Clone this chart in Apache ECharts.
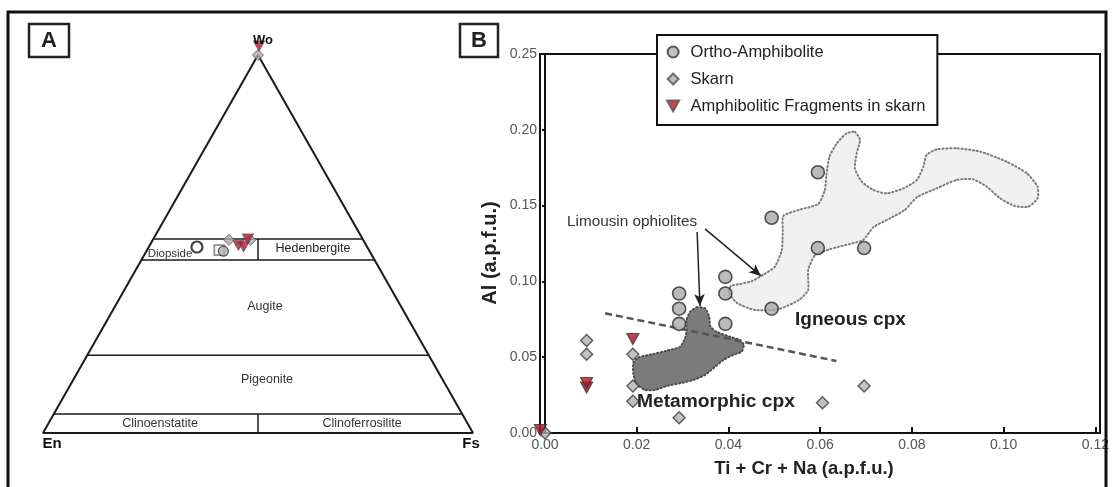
<!DOCTYPE html>
<html><head><meta charset="utf-8">
<script src="https://cdn.jsdelivr.net/npm/echarts@6/dist/echarts.min.js"></script>
<style>html,body{margin:0;padding:0;background:#fff}#c{width:1112px;height:487px}</style>
</head><body><div id="c"></div>
<script>
// ===== Panel B: Al vs Ti+Cr+Na (a.p.f.u.) =====
const orthoX = [0.029, 0.029, 0.029, 0.039, 0.039, 0.039, 0.049, 0.049, 0.059, 0.059, 0.069];
const orthoY = [0.092, 0.082, 0.072, 0.103, 0.092, 0.072, 0.082, 0.142, 0.172, 0.122, 0.122];
const skarnX = [0.000, 0.009, 0.009, 0.019, 0.019, 0.019, 0.029, 0.060, 0.069];
const skarnY = [0.000, 0.061, 0.052, 0.052, 0.031, 0.021, 0.010, 0.020, 0.031];
const fragX = [-0.001, 0.009, 0.009, 0.019];
const fragY = [0.002, 0.030, 0.033, 0.062];
const xTicks = [0.00, 0.02, 0.04, 0.06, 0.08, 0.10, 0.12];
const yTicks = [0.00, 0.05, 0.10, 0.15, 0.20, 0.25];
// Igneous cpx field outline
const ignX = [0.0670,0.0681,0.0674,0.0670,0.0685,0.0710,0.0739,0.0775,0.0804,0.0818,0.0825,0.0847,0.0890,0.0941,0.0998,0.1042,0.1065,0.1065,0.1045,0.1016,0.0984,0.0955,0.0926,0.0890,0.0847,0.0804,0.0778,0.0746,0.0710,0.0688,0.0659,0.0616,0.0584,0.0569,0.0569,0.0549,0.0506,0.0454,0.0415,0.0398,0.0402,0.0422,0.0448,0.0471,0.0497,0.0512,0.0514,0.0515,0.0548,0.0591,0.0605,0.0608,0.0615,0.0631,0.0652];
const ignY = [0.1986,0.1933,0.1845,0.1746,0.1658,0.1603,0.1581,0.1614,0.1669,0.1757,0.1834,0.1871,0.1878,0.1856,0.1790,0.1713,0.1625,0.1548,0.1493,0.1497,0.1548,0.1625,0.1673,0.1669,0.1614,0.1555,0.1471,0.1416,0.1357,0.1273,0.1247,0.1212,0.1174,0.1075,0.0943,0.0877,0.0818,0.0811,0.0858,0.0923,0.0970,0.0983,0.1003,0.1042,0.1097,0.1207,0.1339,0.1431,0.1471,0.1511,0.1603,0.1691,0.1823,0.1911,0.1977];
// Metamorphic cpx field (Limousin ophiolites) outline
const metX = [0.0328,0.0346,0.0355,0.0358,0.0371,0.0400,0.0422,0.0430,0.0425,0.0407,0.0386,0.0364,0.0346,0.0321,0.0292,0.0263,0.0238,0.0216,0.0197,0.0191,0.0191,0.0202,0.0234,0.0263,0.0292,0.0303,0.0306,0.0306,0.0314];
const metY = [0.0829,0.0823,0.0767,0.0701,0.0668,0.0635,0.0613,0.0580,0.0536,0.0515,0.0482,0.0427,0.0383,0.0350,0.0328,0.0310,0.0284,0.0284,0.0328,0.0394,0.0464,0.0499,0.0521,0.0543,0.0569,0.0625,0.0679,0.0745,0.0800];
const dashX = [0.013, 0.063];
const dashY = [0.079, 0.0475];
const arrowFromX = [0.0329, 0.0346];
const arrowFromY = [0.1326, 0.1346];
const arrowToX = [0.0335, 0.0467];
const arrowToY = [0.0838, 0.1036];

// ===== Panel A: Wo-En-Fs ternary (Wo, En, Fs) =====
const woLevels = [51.3, 45.8, 20.6, 5];       // Di-Hd top, Di-Hd base, Augite/Pigeonite, Pigeonite/Clino
const terOrtho = [[48.1, 34.0, 17.9]];
const terOrthoOpen = [[49.2, 39.6, 11.2]];
const terSquare = [[48.4, 34.8, 16.8]];
const terSkarn = [[51.1, 31.2, 17.7], [51.1, 26.2, 22.7], [100, 0, 0]];
const terFrag = [[49.7, 29.7, 20.6], [49.3, 28.7, 22.0], [51.3, 26.7, 22.0], [100, 0, 0]];

function tern(p) { const s = p[0] + p[1] + p[2]; return [(p[2] + p[0] / 2) / s * 100, p[0] / s * 100]; }
const zip = (xs, ys) => xs.map((x, i) => [x, ys[i]]);

const F = 'Liberation Sans, Arial, sans-serif';
const triDown = 'path://M0,0L10,0L5,9Z';
const diamond = 'path://M5,0L10,5L5,10L0,5Z';

const chart = echarts.init(document.getElementById('c'), null, {renderer: 'canvas'});

const triLines = [];
triLines.push([tern([100,0,0]), tern([0,100,0]), tern([0,0,100]), tern([100,0,0])]);
woLevels.forEach(w => triLines.push([tern([w, 100 - w, 0]), tern([w, 0, 100 - w])]));
triLines.push([tern([woLevels[0], (100 - woLevels[0]) / 2, (100 - woLevels[0]) / 2]), tern([woLevels[1], (100 - woLevels[1]) / 2, (100 - woLevels[1]) / 2])]);
triLines.push([tern([woLevels[3], (100 - woLevels[3]) / 2, (100 - woLevels[3]) / 2]), tern([0, 50, 50])]);

function poly(xs, ys, fill, stroke, z) {
  return {
    type: 'custom', xAxisIndex: 1, yAxisIndex: 1, z: z, silent: true, clip: false,
    data: [[xs[0], ys[0]]],
    renderItem: function (params, api) {
      const pts = xs.map((x, i) => api.coord([x, ys[i]]));
      return {type: 'polygon', shape: {points: pts, smooth: 0.2},
        style: {fill: fill, stroke: stroke, lineWidth: 2, lineDash: [1.2, 2.6], lineCap: 'round'}};
    }
  };
}

const series = [];
triLines.forEach((d, i) => series.push({
  type: 'line', xAxisIndex: 0, yAxisIndex: 0, data: d, symbol: 'none', silent: true,
  lineStyle: {color: '#1a1a1a', width: i === 0 ? 2 : 1.5}, z: 1
}));
series.push({type: 'scatter', xAxisIndex: 0, yAxisIndex: 0, data: terOrthoOpen.map(tern), symbol: 'circle', symbolSize: 11,
  itemStyle: {color: '#fff', borderColor: '#111', borderWidth: 2.2}, z: 5});
series.push({type: 'scatter', xAxisIndex: 0, yAxisIndex: 0, data: terSquare.map(tern), symbol: 'rect', symbolSize: 10,
  itemStyle: {color: '#fff', borderColor: '#777', borderWidth: 1.8}, z: 5});
series.push({name: 'Ortho-Amphibolite', type: 'scatter', xAxisIndex: 0, yAxisIndex: 0, data: terOrtho.map(tern), symbol: 'circle', symbolSize: 10,
  itemStyle: {color: '#b0b0b0', borderColor: '#333', borderWidth: 1.2}, z: 6});
series.push({name: 'Skarn', type: 'scatter', xAxisIndex: 0, yAxisIndex: 0, data: terSkarn.map(tern), symbol: diamond, symbolSize: 11,
  itemStyle: {color: '#b8a8ac', borderColor: '#555', borderWidth: 1}, z: 6});
series.push({name: 'Amphibolitic Fragments in skarn', type: 'scatter', xAxisIndex: 0, yAxisIndex: 0, clip: false,
  data: terFrag.map(p => ({value: tern(p), symbolOffset: p[0] === 100 ? [1, -9] : [0, 0]})),
  symbol: triDown, symbolSize: [11, 10], itemStyle: {color: '#c0142c', borderColor: '#555', borderWidth: 1}, z: 7});

// Panel B
series.push(poly(ignX, ignY, '#f0f0f0', '#7a7a7a', 1));
series.push(poly(metX, metY, '#7b7b7b', '#4a4a4a', 2));
series.push({type: 'line', xAxisIndex: 1, yAxisIndex: 1, data: zip(dashX, dashY), symbol: 'none', silent: true, z: 3,
  lineStyle: {color: '#555', width: 2.5, type: [7, 4]}});
series.push({type: 'scatter', xAxisIndex: 1, yAxisIndex: 1, data: [], silent: true, z: 4,
  markLine: {silent: true, symbol: ['none', 'arrow'], symbolSize: [8, 12], animation: false,
    lineStyle: {color: '#222', width: 1.5, type: 'solid'}, label: {show: false},
    data: arrowFromX.map((x, i) => [{coord: [x, arrowFromY[i]]}, {coord: [arrowToX[i], arrowToY[i]]}])}});
series.push({name: 'Ortho-Amphibolite', type: 'scatter', xAxisIndex: 1, yAxisIndex: 1, clip: false, data: zip(orthoX, orthoY),
  symbol: 'circle', symbolSize: 13, itemStyle: {color: '#aaaaaa', borderColor: '#2b2b2b', borderWidth: 1.6}, z: 8});
series.push({name: 'Skarn', type: 'scatter', xAxisIndex: 1, yAxisIndex: 1, clip: false, data: zip(skarnX, skarnY),
  symbol: diamond, symbolSize: 12, itemStyle: {color: '#b3b3b3', borderColor: '#3a3a3a', borderWidth: 1.4}, z: 8});
series.push({name: 'Amphibolitic Fragments in skarn', type: 'scatter', xAxisIndex: 1, yAxisIndex: 1, clip: false, data: zip(fragX, fragY),
  symbol: triDown, symbolSize: [12, 11], itemStyle: {color: '#b8101f', borderColor: '#333', borderWidth: 1.2}, z: 9});

const txt = (x, y, s, size, weight, align, color, extra) => Object.assign({
  type: 'text', x: x, y: y, silent: true, z: 20,
  style: {text: s, fontFamily: F, fontSize: size, fontWeight: weight || 'normal', fill: color || '#222',
    align: align || 'center', verticalAlign: 'middle'}
}, extra || {});

const option = {
  animation: false,
  backgroundColor: '#fff',
  grid: [
    {left: 43, width: 430, top: 55, height: 378},
    {left: 540, right: 12, top: 54, bottom: 54, show: true, borderColor: '#111', borderWidth: 2, backgroundColor: 'transparent'},
    {left: 545, right: 12, top: 54, bottom: 54}
  ],
  xAxis: [
    {gridIndex: 0, type: 'value', min: 0, max: 100, show: false},
    {gridIndex: 1, type: 'value', min: -0.00108, max: xTicks[xTicks.length - 1],
      axisLine: {show: true, lineStyle: {color: '#111', width: 2}}, axisTick: {show: false}, axisLabel: {show: false}, splitLine: {show: false}},
    {gridIndex: 2, type: 'value', min: xTicks[0], max: xTicks[xTicks.length - 1], interval: xTicks[1] - xTicks[0],
      axisLine: {show: false}, axisTick: {show: true, inside: true, length: 6, lineStyle: {color: '#111', width: 2}},
      axisLabel: {margin: 5, fontSize: 14, color: '#555', fontFamily: F, formatter: v => v.toFixed(2)}, splitLine: {show: false}}
  ],
  yAxis: [
    {gridIndex: 0, type: 'value', min: 0, max: 100, show: false},
    {gridIndex: 1, type: 'value', min: yTicks[0], max: yTicks[yTicks.length - 1], interval: yTicks[1] - yTicks[0],
      axisLine: {show: true, lineStyle: {color: '#111', width: 2}}, axisTick: {show: true, length: 3, lineStyle: {color: '#111', width: 2}},
      axisLabel: {margin: 3, fontSize: 14, color: '#555', fontFamily: F, formatter: v => v.toFixed(2)}, splitLine: {show: false}},
    {gridIndex: 2, type: 'value', min: 0, max: 1, show: false}
  ],
  legend: {
    data: ['Ortho-Amphibolite', 'Skarn', 'Amphibolitic Fragments in skarn'],
    orient: 'vertical', left: 657, top: 35, z: 10,
    backgroundColor: '#fff', borderColor: '#111', borderWidth: 2, borderRadius: 0,
    padding: [8, 12, 10, 9], itemGap: 9, itemWidth: 25, itemHeight: 11,
    textStyle: {fontFamily: F, fontSize: 16.5, color: '#222', lineHeight: 18}, selectedMode: false
  },
  series: series,
  graphic: [
    {type: 'rect', shape: {x: 8, y: 12, width: 1098, height: 500}, style: {fill: 'none', stroke: '#111', lineWidth: 3}, silent: true, z: 30},
    {type: 'rect', shape: {x: 29, y: 24, width: 40, height: 33}, style: {fill: '#fff', stroke: '#222', lineWidth: 2.5}, silent: true, z: 19},
    txt(49, 41, 'A', 22, 'bold', 'center', '#222'),
    {type: 'rect', shape: {x: 460, y: 24, width: 38, height: 33}, style: {fill: '#fff', stroke: '#222', lineWidth: 2.5}, silent: true, z: 19},
    txt(479, 41, 'B', 22, 'bold', 'center', '#222'),
    txt(263, 40, 'Wo', 13, 'bold', 'center', '#111'),
    txt(52, 444, 'En', 15, 'bold', 'center', '#111'),
    txt(471, 444, 'Fs', 15, 'bold', 'center', '#111'),
    txt(170, 254, 'Diopside', 11.5, 'normal', 'center', '#333'),
    txt(313, 249, 'Hedenbergite', 12.5, 'normal', 'center', '#222'),
    txt(265, 307, 'Augite', 12.5, 'normal', 'center', '#333'),
    txt(267, 380, 'Pigeonite', 12.5, 'normal', 'center', '#333'),
    txt(160, 424, 'Clinoenstatite', 12.5, 'normal', 'center', '#333'),
    txt(362, 424, 'Clinoferrosilite', 12.5, 'normal', 'center', '#333'),
    txt(567, 222, 'Limousin ophiolites', 15.3, 'normal', 'left', '#333'),
    txt(795, 320, 'Igneous cpx', 19, 'bold', 'left', '#222'),
    txt(637, 402, 'Metamorphic cpx', 19.2, 'bold', 'left', '#222'),
    txt(804, 469, 'Ti + Cr + Na (a.p.f.u.)', 18.5, 'bold', 'center', '#222'),
    txt(490, 253, 'Al (a.p.f.u.)', 20, 'bold', 'center', '#222', {rotation: Math.PI / 2})
  ]
};
chart.setOption(option);
</script></body></html>
